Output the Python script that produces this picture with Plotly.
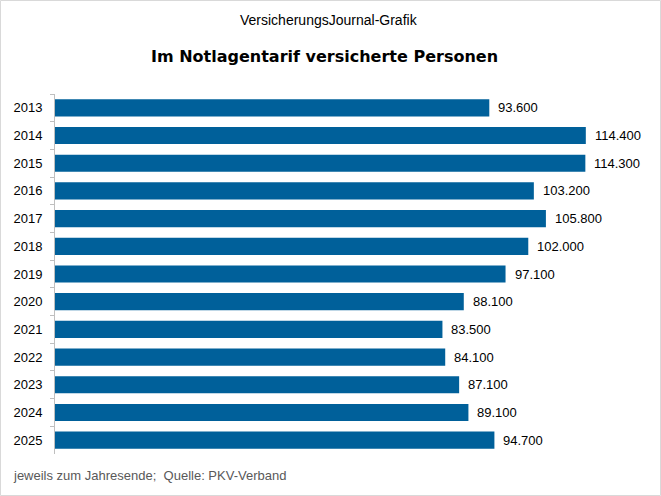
import plotly.graph_objects as go

years = ["2013", "2014", "2015", "2016", "2017", "2018", "2019",
         "2020", "2021", "2022", "2023", "2024", "2025"]
persons = [93600, 114400, 114300, 103200, 105800, 102000, 97100,
           88100, 83500, 84100, 87100, 89100, 94700]

W, H = 661, 496
ML, MR, MT, MB = 55, 21, 94, 42
PW, PH = W - ML - MR, H - MT - MB

BAR = "#00609a"
FONT = "Liberation Sans, Arial, sans-serif"

def de(v):
    return f"{v:,}".replace(",", ".")

fig = go.Figure(go.Bar(
    x=persons, y=years, orientation="h",
    marker=dict(color=BAR, line=dict(width=0)),
    width=0.62, hoverinfo="skip",
))

annos = [dict(x=v, y=i, xref="x", yref="y", text=de(v), showarrow=False,
              xanchor="left", yanchor="middle", xshift=7,
              font=dict(family=FONT, size=13, color="#000000"))
         for i, v in enumerate(persons)]

def px_x(px):
    return (px - ML) / PW

def px_y(py):
    return (H - MB - py) / PH

annos += [
    dict(x=px_x(328.5), y=px_y(20), xref="paper", yref="paper",
         text="VersicherungsJournal-Grafik", showarrow=False,
         xanchor="center", yanchor="middle",
         font=dict(family=FONT, size=14, color="#000000")),
    dict(x=px_x(324.5), y=px_y(57), xref="paper", yref="paper",
         text="<b>Im Notlagentarif versicherte Personen</b>", showarrow=False,
         xanchor="center", yanchor="middle",
         font=dict(family="DejaVu Sans, sans-serif", size=16, color="#000000")),
    dict(x=px_x(11), y=px_y(475), xref="paper", yref="paper",
         text="jeweils zum Jahresende;  Quelle: PKV-Verband", showarrow=False,
         xanchor="left", yanchor="middle",
         font=dict(family=FONT, size=13, color="#595959")),
]

fig.update_layout(
    width=W, height=H,
    margin=dict(l=ML, r=MR, t=MT, b=MB, autoexpand=False),
    paper_bgcolor="white", plot_bgcolor="white",
    showlegend=False,
    annotations=annos,
    xaxis=dict(range=[0, PW / 0.00464], visible=False, fixedrange=True),
    yaxis=dict(type="category", categoryorder="array", categoryarray=years,
               range=[len(years) - 0.5, -0.5],
               showline=True, linecolor="#bfbfbf", linewidth=1,
               ticks="outside", ticklen=4, tickcolor="#bfbfbf",
               tickson="boundaries", showgrid=False,
               ticklabelstandoff=9,
               tickfont=dict(family=FONT, size=13, color="#000000")),
    shapes=[dict(type="rect", xref="paper", yref="paper",
                 x0=px_x(0.5), x1=px_x(W - 0.5),
                 y0=px_y(H - 0.5), y1=px_y(0.5),
                 line=dict(color="#d9d9d9", width=1), layer="below")],
)

fig.write_html("out.html")
